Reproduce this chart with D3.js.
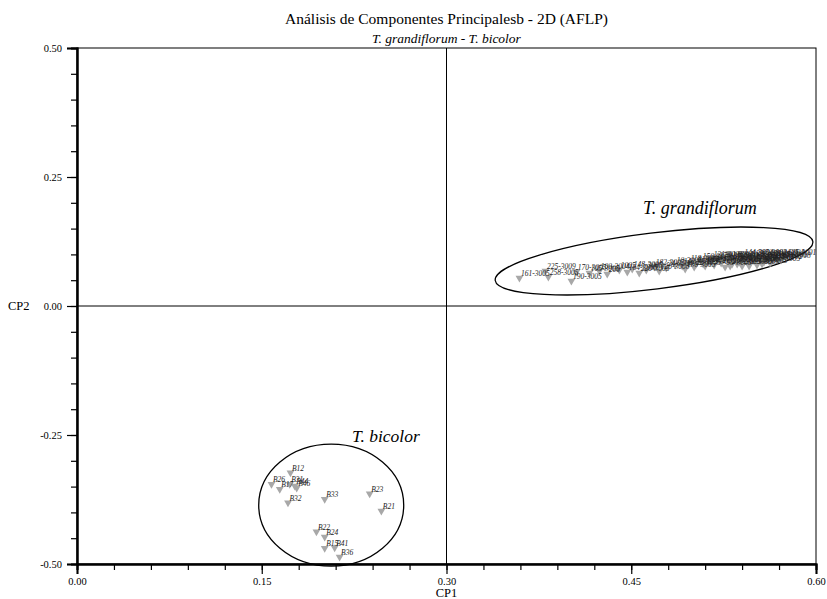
<!DOCTYPE html>
<html>
<head>
<meta charset="utf-8">
<script src="https://cdn.jsdelivr.net/npm/d3@7"></script>
<style>
  html, body { margin: 0; padding: 0; background: #fff; }
  svg { display: block; font-family: "Liberation Serif", "Times New Roman", serif; }
</style>
</head>
<body>
<svg id="chart" width="827" height="599"></svg>
<script>
// Axis ticks
const xTicks = [0.00, 0.15, 0.30, 0.45, 0.60];
const yTicks = [-0.50, -0.25, 0.00, 0.25, 0.50];

// T. bicolor accessions (CP1, CP2)
const bicolorLabels = ["B12", "B26", "B17", "B31", "B44", "B46", "B32", "B33", "B23", "B21", "B22", "B24", "B15", "B41", "B36"];
const bicolorCP1 = [0.1733, 0.1579, 0.1646, 0.1727, 0.1768, 0.1784, 0.1713, 0.2011, 0.2376, 0.2471, 0.1944, 0.2011, 0.2011, 0.2092, 0.2132];
const bicolorCP2 = [-0.3231, -0.3455, -0.3552, -0.3455, -0.3488, -0.3527, -0.3812, -0.3746, -0.3638, -0.3973, -0.4374, -0.4477, -0.4696, -0.4684, -0.4864];

// T. grandiflorum accessions (CP1, CP2)
const grandiLabels = ["161-3005", "225-3009", "258-3005", "190-3005", "170-3005", "105-3005", "100-3004", "200", "1005", "164-3005",
  "148-3006", "220-3005", "3005", "182-3005", "120-3008", "24-3004", "10-3006", "142-3001", "136-3005", "118-3002",
  "22-3005", "210-3004", "156-3003", "3008", "172-3005", "184-3001", "131-3006", "112-3005", "176-3002", "140-3005",
  "201-3004", "95-3005", "167-3003", "215-3005", "108-3007", "188-3001", "150-3005", "126-3004", "230-3005", "144-3002",
  "160-3006", "115-3005", "195-3003", "132-3001", "178-3004", "205-3002", "158-3005", "138-3007", "3005", "212-3001",
  "122-3006", "186-3003", "168-3005", "145-3002", "102-3004", "198-3001", "114-3008", "125-3001"];
const grandiCP1 = [0.3592, 0.3803, 0.3827, 0.4014, 0.4054, 0.4160, 0.4241, 0.4305, 0.4403, 0.4468,
  0.4508, 0.4565, 0.4622, 0.4687, 0.4727, 0.4784, 0.4857, 0.4914, 0.4938, 0.4970,
  0.5011, 0.5027, 0.5068, 0.5084, 0.5100, 0.5141, 0.5157, 0.5173, 0.5206, 0.5230,
  0.5246, 0.5262, 0.5287, 0.5303, 0.5319, 0.5343, 0.5360, 0.5376, 0.5400, 0.5408,
  0.5424, 0.5449, 0.5457, 0.5473, 0.5497, 0.5514, 0.5521, 0.5546, 0.5562, 0.5578,
  0.5595, 0.5611, 0.5627, 0.5643, 0.5660, 0.5684, 0.5716, 0.5757];
const grandiCP2 = [0.0543, 0.0678, 0.0562, 0.0484, 0.0659, 0.0640, 0.0678, 0.0620, 0.0698, 0.0659,
  0.0717, 0.0640, 0.0698, 0.0756, 0.0678, 0.0736, 0.0795, 0.0775, 0.0717, 0.0833,
  0.0756, 0.0814, 0.0872, 0.0814, 0.0775, 0.0853, 0.0911, 0.0795, 0.0891, 0.0833,
  0.0911, 0.0756, 0.0872, 0.0775, 0.0814, 0.0911, 0.0814, 0.0853, 0.0775, 0.0950,
  0.0891, 0.0833, 0.0775, 0.0930, 0.0872, 0.0950, 0.0795, 0.0911, 0.0814, 0.0853,
  0.0891, 0.0930, 0.0833, 0.0872, 0.0950, 0.0911, 0.0891, 0.0950];

// Group ellipses (centre in CP units)
const groupNames = ["T. grandiflorum", "T. bicolor"];
const groupCP1 = [0.4685, 0.2064];
const groupCP2 = [0.0872, -0.386];

const svg = d3.select("#chart");
const W = 827, H = 599;
const m = { left: 77, right: 11, top: 48, bottom: 35 };

const x = d3.scaleLinear().domain([0, 0.6]).range([m.left, W - m.right]);
const y = d3.scaleLinear().domain([-0.5, 0.5]).range([H - m.bottom, m.top]);
const fmt = d => d.toFixed(2);

// Titles
svg.append("text").attr("x", x(0.3)).attr("y", 24).attr("text-anchor", "middle")
  .attr("font-size", 15.5).text("Análisis de Componentes Principalesb - 2D (AFLP)");
svg.append("text").attr("x", x(0.3)).attr("y", 43).attr("text-anchor", "middle")
  .attr("font-size", 13.5).attr("font-style", "italic").text("T. grandiflorum - T. bicolor");

// Frame and crosshair through CP2 = 0 and the centre of CP1
svg.append("rect").attr("x", x(0)).attr("y", y(0.5))
  .attr("width", x(0.6) - x(0)).attr("height", y(-0.5) - y(0.5))
  .attr("fill", "none").attr("stroke", "#000").attr("stroke-width", 1);
svg.append("line").attr("x1", x(0.3)).attr("x2", x(0.3)).attr("y1", y(0.5)).attr("y2", y(-0.5))
  .attr("stroke", "#000").attr("stroke-width", 1);
svg.append("line").attr("x1", x(0)).attr("x2", x(0.6)).attr("y1", y(0)).attr("y2", y(0))
  .attr("stroke", "#000").attr("stroke-width", 1);

// Axes: major ticks with labels, minor ticks between
const xMinor = d3.range(0, 0.6001, 0.03);
const yMinor = d3.range(-0.5, 0.5001, 0.05);

const gx = svg.append("g").attr("transform", `translate(0,${y(-0.5)})`);
gx.call(d3.axisBottom(x).tickValues(xMinor).tickSize(6).tickFormat(""));
gx.append("g").call(d3.axisBottom(x).tickValues(xTicks).tickSize(10).tickPadding(4).tickFormat(fmt));

const gy = svg.append("g").attr("transform", `translate(${x(0)},0)`);
gy.call(d3.axisLeft(y).tickValues(yMinor).tickSize(6).tickFormat(""));
gy.append("g").call(d3.axisLeft(y).tickValues(yTicks).tickSize(10).tickPadding(5).tickFormat(fmt));

svg.selectAll(".domain").attr("stroke", "#000").attr("stroke-width", 2);
svg.selectAll(".tick line").attr("stroke", "#000").attr("stroke-width", 1.2);
svg.selectAll(".tick text").attr("font-family", "Liberation Serif").attr("font-size", 10.5).attr("fill", "#000");

// Axis titles
svg.append("text").attr("x", x(0.3)).attr("y", 597).attr("text-anchor", "middle")
  .attr("font-size", 12.5).text("CP1");
svg.append("text").attr("x", 8).attr("y", y(0) + 4).attr("font-size", 12.5).text("CP2");

// Group ellipses
const ell = svg.append("g").attr("fill", "none").attr("stroke", "#000").attr("stroke-width", 1.3);
ell.append("ellipse")
  .attr("transform", `translate(${x(groupCP1[0])},${y(groupCP2[0])}) rotate(-7)`)
  .attr("rx", 160).attr("ry", 28);
ell.append("ellipse")
  .attr("transform", `translate(${x(groupCP1[1])},${y(groupCP2[1])})`)
  .attr("rx", 72.5).attr("ry", 61);

svg.append("text").attr("x", 643).attr("y", 214).attr("font-size", 18).attr("font-style", "italic").text(groupNames[0]);
svg.append("text").attr("x", 352).attr("y", 442).attr("font-size", 17.5).attr("font-style", "italic").text(groupNames[1]);

// Points: grey downward triangles with italic accession labels
const tri = d3.symbol().type(d3.symbolTriangle).size(26);
function drawGroup(labels, cp1, cp2) {
  const pts = labels.map((l, i) => ({ l, a: cp1[i], b: cp2[i] }));
  const g = svg.append("g");
  g.selectAll("path").data(pts).join("path")
    .attr("d", tri)
    .attr("transform", d => `translate(${x(d.a)},${y(d.b)}) rotate(180)`)
    .attr("fill", "#a8a8a8");
  g.selectAll("text").data(pts).join("text")
    .attr("x", d => x(d.a) + 1.5)
    .attr("y", d => y(d.b) - 2)
    .attr("font-size", 7.5).attr("font-style", "italic").attr("fill", "#222")
    .text(d => d.l);
}
drawGroup(grandiLabels, grandiCP1, grandiCP2);
drawGroup(bicolorLabels, bicolorCP1, bicolorCP2);
</script>
</body>
</html>
